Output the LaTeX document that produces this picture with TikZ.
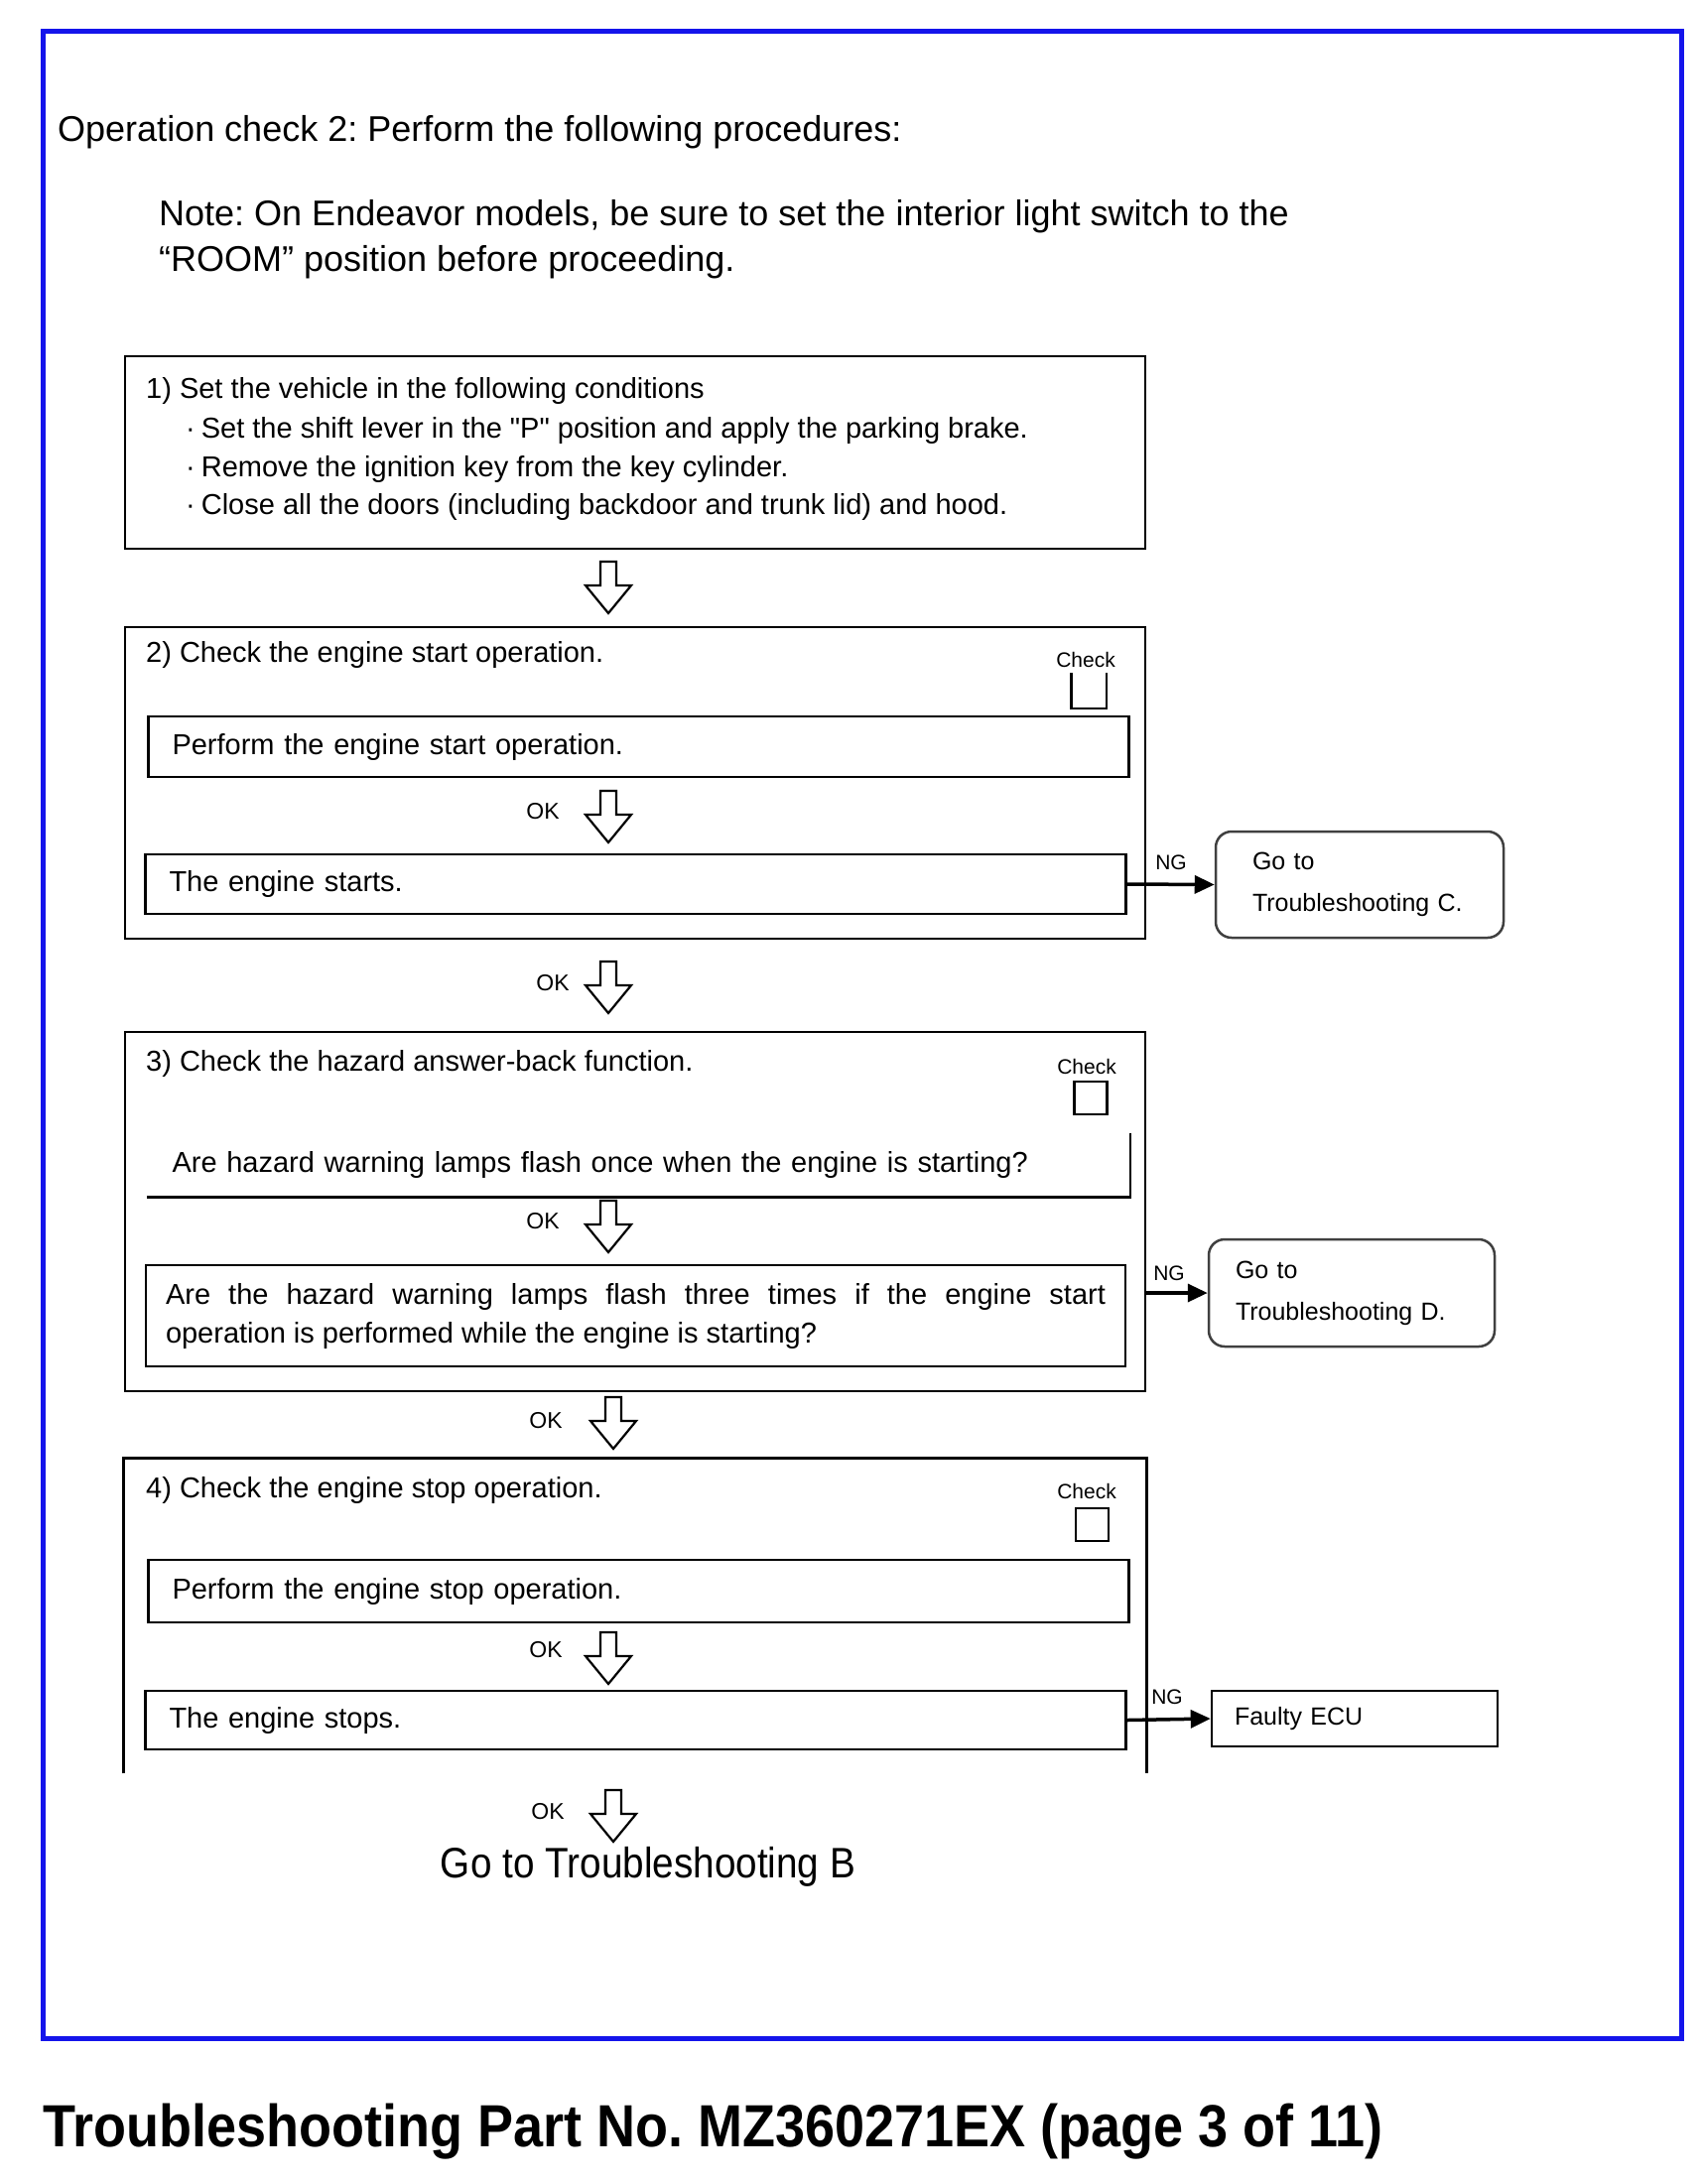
\documentclass[tikz,border=0pt]{standalone}
\usepackage{fontspec}
\setmainfont{Liberation Sans}
\newfontfamily\narrowsans[FakeStretch=0.9]{Liberation Sans}
\usetikzlibrary{arrows.meta}

\definecolor{frameblue}{RGB}{20,20,235}
\frenchspacing

\newcommand\pagetitlefont{\fontsize{36}{46}\selectfont}
\newcommand\stepfont{\fontsize{29}{39}\selectfont}
\newcommand\checkfont{\fontsize{21}{24}\selectfont}
\newcommand\okfont{\fontsize{23}{26}\selectfont}
\newcommand\sidefont{\fontsize{25}{42}\selectfont}
\newcommand\exitfont{\narrowsans\fontsize{43}{50}\selectfont}
\newcommand\footfont{\narrowsans\bfseries\fontsize{60}{70}\selectfont}

\begin{document}
\begin{tikzpicture}[x=1pt, y=-1pt, line join=miter,
    boxline/.style={draw, line width=2.8pt},
    outerbox/.style={boxline, minimum width=1028pt, inner sep=0pt},
    innerbox/.style={boxline, inner xsep=24pt, inner ysep=0pt, text width=940pt,
                     align=left, font=\stepfont},
    steptext/.style={inner sep=0pt, anchor=west, font=\stepfont},
    checklabel/.style={inner sep=0pt, font=\checkfont},
    chkbox/.style={boxline, line width=2.5pt, minimum width=33pt, minimum height=33pt, inner sep=0pt},
    oklabel/.style={inner sep=0pt, font=\okfont},
    nglabel/.style={inner sep=0pt, font=\checkfont},
    sidebox/.style={draw=black!75, line width=2.5pt, rounded corners=16pt, inner xsep=37pt,
                    text width=216pt, align=left, font=\sidefont},
    ngline/.style={line width=3.5pt, -{Triangle[width=18pt,length=20pt]}},
    pics/okdown/.style={code={
      \draw[line width=2.2pt, fill=white] (-8,0) -- (-8,24) -- (-23,24) -- (0,52)
            -- (23,24) -- (8,24) -- (8,0) -- cycle;
    }}]

  \useasboundingbox (0,0) rectangle (1714,2201);

  % the blue page frame
  \draw[frameblue, line width=5pt] (43.5,31) rectangle (1694,2054);

  % heading and note
  \node[inner sep=0pt, anchor=west, font=\pagetitlefont] (heading) at (58,133)
        {Operation check 2: Perform the following procedures:};
  \node[inner sep=0pt, anchor=north west, align=left, font=\pagetitlefont] (note) at (160,201)
        {Note: On Endeavor models, be sure to set the interior light switch to the\\
         ``ROOM'' position before proceeding.};

  % step 1
  \node[outerbox, minimum height=194pt] (step1) at (640,456) {};
  \node[steptext] (s1head) at (147,394) {1) Set the vehicle in the following conditions};
  \foreach \t/\y [count=\i] in {Set the shift lever in the \textquotedbl P\textquotedbl\ position and apply the parking brake./434,
                                Remove the ignition key from the key cylinder./473,
                                Close all the doors (including backdoor and trunk lid) and hood./511}{
    \node[steptext] (s1line\i) at (187,\y) {·\hspace{6pt}\t};
  }

  \pic at (613,566) {okdown};

  % step 2
  \node[outerbox, minimum height=314pt] (step2) at (640,789) {};
  \node[steptext] (s2head) at (147,660) {2) Check the engine start operation.};
  \node[checklabel] (chk2) at (1094,665) {Check};
  \node[chkbox, draw=none] (box2) at (1097,696) {};
  \draw[boxline, line width=2.5pt] (box2.north west) -- (box2.south west) -- (box2.south east) -- (box2.north east);
  \node[innerbox, minimum height=61pt] (startop) at (643.5,752.5) {Perform the engine start operation.};
  \node[oklabel] (ok2) at (547,818) {OK};
  \pic at (613,797) {okdown};
  \node[innerbox, minimum height=60pt] (starts) at (640.5,891) {The engine starts.};
  \node[sidebox, minimum height=107pt] (gotoC) at (1370,891.5) {Go to\\Troubleshooting C.};
  \draw[ngline] (starts.east) -- (gotoC.west);
  \node[nglabel] (ng2) at (1180,869) {NG};

  \node[oklabel] (ok23) at (557,991) {OK};
  \pic at (613,969) {okdown};

  % step 3
  \node[outerbox, minimum height=362pt] (step3) at (640,1221) {};
  \node[steptext] (s3head) at (147,1072) {3) Check the hazard answer-back function.};
  \node[checklabel] (chk3) at (1095,1075) {Check};
  \node[chkbox] (box3) at (1099,1106.5) {};
  \node[innerbox, draw=none, minimum height=62pt] (flashonce) at (643.5,1174)
        {Are hazard warning lamps flash once when the engine is starting?};
  \draw[boxline] (flashonce.north east) -- (flashonce.south east) -- (flashonce.south west);
  \node[oklabel] (ok3) at (547,1231) {OK};
  \pic at (613,1210) {okdown};
  \node[innerbox, align=justify, inner xsep=20pt, text width=947pt, minimum height=102pt] (flashthree) at (640.5,1326)
        {Are the hazard warning lamps flash three times if the engine start\linebreak
         operation is performed while the engine is starting?};
  \node[sidebox, minimum height=108pt, inner xsep=27pt, text width=234pt] (gotoD) at (1362,1303)
        {Go to\\Troubleshooting D.};
  \draw[ngline] (step3.east |- gotoD.west) -- (gotoD.west);
  \node[nglabel] (ng3) at (1178,1283) {NG};

  \node[oklabel] (ok34) at (550,1432) {OK};
  \pic at (618,1408) {okdown};

  % step 4, open at the bottom
  \node[outerbox, draw=none, minimum height=315pt] (step4) at (640,1628.5) {};
  \draw[boxline] (step4.south west) -- (step4.north west) -- (step4.north east) -- (step4.south east);
  \node[steptext] (s4head) at (147,1502) {4) Check the engine stop operation.};
  \node[checklabel] (chk4) at (1095,1503) {Check};
  \node[chkbox] (box4) at (1100.5,1536.5) {};
  \node[innerbox, minimum height=63pt] (stopop) at (643.5,1603.5) {Perform the engine stop operation.};
  \node[oklabel] (ok4) at (550,1663) {OK};
  \pic at (613,1645) {okdown};
  \node[innerbox, minimum height=59pt] (stops) at (640.5,1733.5) {The engine stops.};
  \node[boxline, line width=2.5pt, minimum width=288pt, minimum height=56pt, inner xsep=23pt,
        text width=242pt, align=left, font=\sidefont] (faulty) at (1365,1732) {Faulty ECU};
  \draw[ngline] (stops.east) -- (faulty.west);
  \node[nglabel] (ng4) at (1176,1710) {NG};

  % way out
  \node[oklabel] (okend) at (552,1826) {OK};
  \pic at (618,1804) {okdown};
  \node[inner sep=0pt, font=\exitfont] (gotoB) at (653,1881) {Go to Troubleshooting B};

  % footer under the frame
  \node[inner sep=0pt, anchor=west, font=\footfont] (footer) at (43,2148)
        {Troubleshooting Part No. MZ360271EX (page 3 of 11)};

\end{tikzpicture}
\end{document}
